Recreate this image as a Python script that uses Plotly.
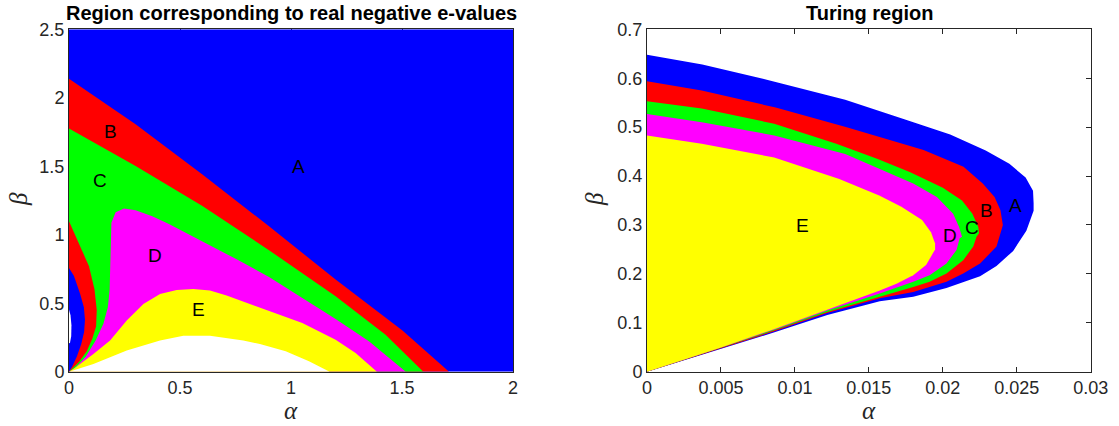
import plotly.graph_objects as go

# ---------------- Left panel data (alpha, beta) ----------------
L_A_RANGE = [0, 2]
L_B_RANGE = [0, 2.5]
L_XTICKS = [0, 0.5, 1, 1.5, 2]
L_XTEXT = ["0", "0.5", "1", "1.5", "2"]
L_YTICKS = [0, 0.5, 1, 1.5, 2, 2.5]
L_YTEXT = ["0", "0.5", "1", "1.5", "2", "2.5"]

# A/B boundary (top of red band)
L_AB_a = [0.0, 0.300, 0.601, 0.901, 1.201, 1.502, 1.712]
L_AB_b = [2.139, 1.806, 1.440, 1.062, 0.673, 0.300, 0.0]
# B/C boundary (top of green band)
L_BC_a = [0.0, 0.300, 0.601, 0.901, 1.201, 1.426, 1.596]
L_BC_b = [1.776, 1.501, 1.209, 0.887, 0.551, 0.270, 0.0]
# inner red lobe near alpha=0
L_IR_a = [0.0, 0.045, 0.090, 0.115, 0.125, 0.122, 0.105, 0.080, 0.045, 0.0]
L_IR_b = [1.099, 0.941, 0.770, 0.600, 0.450, 0.330, 0.240, 0.150, 0.070, 0.0]
# inner blue lobe
L_IB_a = [0.0, 0.022, 0.050, 0.067, 0.072, 0.068, 0.055, 0.035, 0.015, 0.0]
L_IB_b = [0.758, 0.700, 0.570, 0.470, 0.380, 0.290, 0.200, 0.110, 0.040, 0.0]
# thin white sliver at alpha=0
L_WS_a = [0.0, 0.007, 0.011, 0.010, 0.005, 0.0]
L_WS_b = [0.455, 0.410, 0.340, 0.260, 0.215, 0.205]
# C/D boundary (magenta outline)
L_CD_a = [0.0, 0.030, 0.075, 0.120, 0.155, 0.175, 0.183, 0.185, 0.186, 0.191, 0.210,
          0.248, 0.300, 0.375, 0.450, 0.601, 0.751, 0.901, 1.051, 1.201, 1.351, 1.517]
L_CD_b = [0.0, 0.030, 0.110, 0.227, 0.350, 0.470, 0.600, 0.760, 0.940, 1.087, 1.165,
          1.192, 1.179, 1.135, 1.079, 0.953, 0.824, 0.692, 0.538, 0.385, 0.222, 0.0]
# D/E boundary (top of yellow)
L_DE_a = [0.0, 0.020, 0.110, 0.185, 0.260, 0.335, 0.410, 0.485, 0.560, 0.635, 0.710,
          0.860, 1.051, 1.201, 1.291, 1.387]
L_DE_b = [0.0, 0.019, 0.129, 0.227, 0.373, 0.495, 0.568, 0.597, 0.604, 0.592, 0.556,
          0.470, 0.356, 0.234, 0.136, 0.0]
# top of white region
L_W_a = [0.0, 0.110, 0.260, 0.410, 0.515, 0.635, 0.785, 0.860, 0.976, 1.081, 1.174]
L_W_b = [0.0, 0.056, 0.154, 0.227, 0.263, 0.263, 0.227, 0.202, 0.149, 0.076, 0.0]

L_LABELS = ["A", "B", "C", "D", "E"]
L_LAB_a = [1.033, 0.188, 0.140, 0.387, 0.583]
L_LAB_b = [1.501, 1.752, 1.399, 0.850, 0.453]

# ---------------- Right panel data ----------------
R_A_RANGE = [0, 0.03]
R_B_RANGE = [0, 0.7]
R_XTICKS = [0, 0.005, 0.01, 0.015, 0.02, 0.025, 0.03]
R_XTEXT = ["0", "0.005", "0.01", "0.015", "0.02", "0.025", "0.03"]
R_YTICKS = [0, 0.1, 0.2, 0.3, 0.4, 0.5, 0.6, 0.7]
R_YTEXT = ["0", "0.1", "0.2", "0.3", "0.4", "0.5", "0.6", "0.7"]

R_A_up_a = [0, 0.00374, 0.0081, 0.0134, 0.0175, 0.0205, 0.0229, 0.0245, 0.0256, 0.0261, 0.02614]
R_A_up_b = [0.648, 0.628, 0.597, 0.556, 0.515, 0.485, 0.452, 0.425, 0.397, 0.370, 0.345]
R_A_lo_a = [0.02614, 0.02565, 0.02476, 0.02363, 0.02252, 0.02025, 0.01800, 0.01574, 0.01219, 0.00857, 0.00495, 0]
R_A_lo_b = [0.329, 0.288, 0.247, 0.216, 0.195, 0.171, 0.153, 0.144, 0.116, 0.080, 0.046, 0]

R_B_up_a = [0, 0.0037, 0.0087, 0.0135, 0.0187, 0.0214, 0.0227, 0.0235, 0.0239, 0.02406]
R_B_up_b = [0.594, 0.575, 0.540, 0.500, 0.453, 0.419, 0.385, 0.357, 0.330, 0.300]
R_B_lo_a = [0.02397, 0.02363, 0.02252, 0.02138, 0.02025, 0.0180, 0.01574, 0.01219, 0.00857, 0.00495, 0]
R_B_lo_b = [0.290, 0.256, 0.221, 0.201, 0.184, 0.163, 0.150, 0.120, 0.082, 0.047, 0]

R_C_up_a = [0, 0.0037, 0.0086, 0.0128, 0.0156, 0.0178, 0.0200, 0.0213, 0.0220, 0.0224, 0.02245]
R_C_up_b = [0.553, 0.538, 0.507, 0.466, 0.435, 0.408, 0.376, 0.350, 0.323, 0.296, 0.283]
R_C_lo_a = [0.02228, 0.02206, 0.02138, 0.02025, 0.01911, 0.0180, 0.01574, 0.01219, 0.00857, 0.00495, 0]
R_C_lo_b = [0.276, 0.256, 0.228, 0.201, 0.184, 0.173, 0.153, 0.122, 0.084, 0.048, 0]

R_D_up_a = [0, 0.0037, 0.0086, 0.0134, 0.0157, 0.0180, 0.0196, 0.0207, 0.0211, 0.0213]
R_D_up_b = [0.527, 0.510, 0.483, 0.445, 0.415, 0.385, 0.357, 0.323, 0.296, 0.276]
R_D_lo_a = [0.02114, 0.02093, 0.02025, 0.01911, 0.0180, 0.01574, 0.01219, 0.00857, 0.00495, 0]
R_D_lo_b = [0.273, 0.249, 0.221, 0.197, 0.184, 0.160, 0.125, 0.086, 0.049, 0]

R_E_up_a = [0, 0.0037, 0.0086, 0.0130, 0.0157, 0.0172, 0.0186, 0.0192, 0.01948]
R_E_up_b = [0.483, 0.466, 0.438, 0.394, 0.360, 0.337, 0.310, 0.285, 0.262]
R_E_lo_a = [0.01948, 0.01933, 0.01887, 0.0180, 0.01687, 0.01574, 0.01219, 0.00857, 0.00495, 0]
R_E_lo_b = [0.250, 0.242, 0.218, 0.197, 0.180, 0.166, 0.127, 0.087, 0.049, 0]

R_LABELS = ["A", "B", "C", "D", "E"]
R_LAB_a = [0.02493, 0.02298, 0.02196, 0.02047, 0.0105]
R_LAB_b = [0.339, 0.330, 0.2945, 0.2788, 0.2993]

BLUE, RED, GREEN, MAGENTA, YELLOW, WHITE = "#0000FF", "#FF0000", "#00FF00", "#FF00FF", "#FFFF00", "#FFFFFF"

fig = go.Figure()


def poly(a, b, color, xa="x", ya="y"):
    fig.add_trace(go.Scatter(x=a, y=b, fill="toself", fillcolor=color, mode="lines",
                             line=dict(width=0, color=color), xaxis=xa, yaxis=ya,
                             hoverinfo="skip", showlegend=False))


# left panel
poly([L_A_RANGE[0], L_A_RANGE[1], L_A_RANGE[1], L_A_RANGE[0]],
     [L_B_RANGE[0], L_B_RANGE[0], L_B_RANGE[1], L_B_RANGE[1]], BLUE)
poly(L_AB_a + [0.0], L_AB_b + [0.0], RED)
poly(L_BC_a + [0.0], L_BC_b + [0.0], GREEN)
poly(L_IR_a, L_IR_b, RED)
poly(L_IB_a, L_IB_b, BLUE)
poly(L_WS_a, L_WS_b, WHITE)
poly(L_CD_a, L_CD_b, MAGENTA)
poly(L_DE_a, L_DE_b, YELLOW)
poly(L_W_a, L_W_b, WHITE)

# right panel
for ua, ub, la, lb, col in [
    (R_A_up_a, R_A_up_b, R_A_lo_a, R_A_lo_b, BLUE),
    (R_B_up_a, R_B_up_b, R_B_lo_a, R_B_lo_b, RED),
    (R_C_up_a, R_C_up_b, R_C_lo_a, R_C_lo_b, GREEN),
    (R_D_up_a, R_D_up_b, R_D_lo_a, R_D_lo_b, MAGENTA),
    (R_E_up_a, R_E_up_b, R_E_lo_a, R_E_lo_b, YELLOW),
]:
    poly(ua + la, ub + lb, col, "x2", "y2")

W, H = 1119, 426


def px(x):
    return x / W


def py(y):
    return 1 - y / H


AX = "#262626"
TICKFONT = dict(family="Liberation Sans, Arial, sans-serif", size=18, color=AX)

common = dict(showgrid=False, zeroline=False, showline=True, linecolor=AX, linewidth=1,
              ticks="inside", ticklen=5, tickcolor=AX, mirror="ticks", automargin=False,
              layer="below traces", tickfont=TICKFONT)

fig.update_layout(
    width=W, height=H, autosize=False,
    margin=dict(l=0, r=0, t=0, b=0, pad=0),
    paper_bgcolor="white", plot_bgcolor="white",
    xaxis=dict(domain=[px(69), px(513)], range=L_A_RANGE, tickvals=L_XTICKS, ticktext=L_XTEXT,
               anchor="y", **common),
    yaxis=dict(domain=[py(371.7), py(29.3)], range=L_B_RANGE, tickvals=L_YTICKS,
               ticktext=L_YTEXT, anchor="x", **common),
    xaxis2=dict(domain=[px(647), px(1090.7)], range=R_A_RANGE, tickvals=R_XTICKS, ticktext=R_XTEXT,
                anchor="y2", **common),
    yaxis2=dict(domain=[py(371.7), py(29.3)], range=R_B_RANGE, tickvals=R_YTICKS,
                ticktext=R_YTEXT, anchor="x2", **common),
)

ann = []
LABFONT = dict(family="Liberation Sans, Arial, sans-serif", size=19, color="black")
for t, a, b in zip(L_LABELS, L_LAB_a, L_LAB_b):
    ann.append(dict(x=a, y=b, xref="x", yref="y", text=t, showarrow=False, font=LABFONT))
for t, a, b in zip(R_LABELS, R_LAB_a, R_LAB_b):
    ann.append(dict(x=a, y=b, xref="x2", yref="y2", text=t, showarrow=False, font=LABFONT))

TITLEFONT = dict(family="Liberation Sans, Arial, sans-serif", size=20, color="black")
ann.append(dict(x=px(291), y=py(13), xref="paper", yref="paper", showarrow=False,
                text="<b>Region corresponding to real negative e-values</b>", font=TITLEFONT,
                xanchor="center", yanchor="middle"))
ann.append(dict(x=px(869), y=py(13), xref="paper", yref="paper", showarrow=False,
                text="<b>Turing region</b>", font=TITLEFONT, xanchor="center", yanchor="middle"))

GREEK = dict(family="Liberation Serif, Times New Roman, serif", size=25, color=AX)
ann.append(dict(x=px(291), y=py(410), xref="paper", yref="paper", showarrow=False,
                text="<i>α</i>", font=GREEK, xanchor="center", yanchor="middle"))
ann.append(dict(x=px(869), y=py(410), xref="paper", yref="paper", showarrow=False,
                text="<i>α</i>", font=GREEK, xanchor="center", yanchor="middle"))
ann.append(dict(x=px(18), y=py(199), xref="paper", yref="paper", showarrow=False,
                text="<i>β</i>", font=GREEK, xanchor="center", yanchor="middle", textangle=-90))
ann.append(dict(x=px(594), y=py(199), xref="paper", yref="paper", showarrow=False,
                text="<i>β</i>", font=GREEK, xanchor="center", yanchor="middle", textangle=-90))

fig.update_layout(annotations=ann)
# remove the browser's default 8px page margin so the figure sits at (0, 0)
fig.write_html("out.html", config={"displayModeBar": False},
               post_script="document.body.style.margin='0';document.body.style.overflow='hidden';")
